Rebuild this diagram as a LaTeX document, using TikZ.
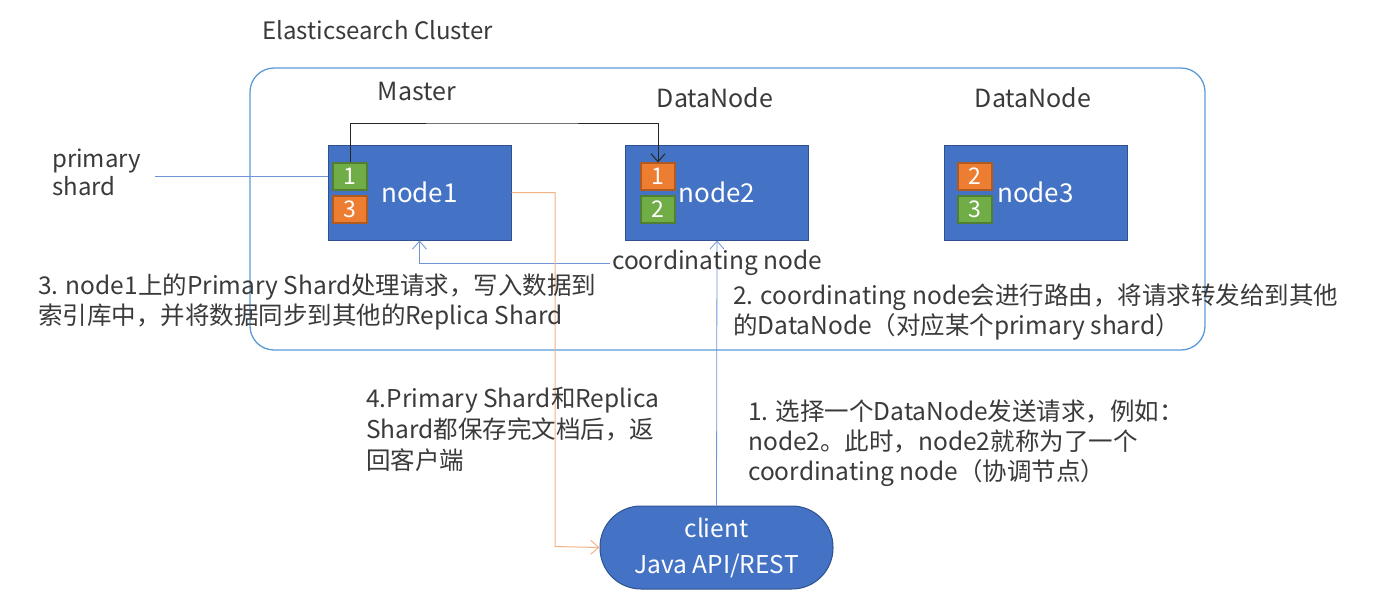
\documentclass[tikz,border=0pt]{standalone}
\usepackage{fontspec}
\setmainfont{Noto Sans CJK SC}
\usetikzlibrary{positioning,arrows.meta}
\definecolor{nodeblue}{HTML}{4472C4}
\definecolor{nodeedge}{HTML}{2F528F}
\definecolor{shgreen}{HTML}{70AD47}
\definecolor{shgreenedge}{HTML}{507E32}
\definecolor{shorange}{HTML}{ED7D31}
\definecolor{shorangeedge}{HTML}{AE5A21}
\definecolor{clusterline}{HTML}{5B9BD5}
\definecolor{linkblue}{HTML}{6F95D8}
\definecolor{linkorange}{HTML}{F4B183}
\definecolor{txt}{HTML}{3A3A3A}

\begin{document}
\begin{tikzpicture}[x=1pt,y=-1pt,
    esnode/.style={draw=nodeedge, line width=1pt, fill=nodeblue, text=white,
      minimum width=183pt, minimum height=95pt, font=\fontsize{26}{30}\selectfont},
    shardgreen/.style={draw=shgreenedge, line width=1.2pt, fill=shgreen, text=white,
      minimum width=34pt, minimum height=27pt, inner sep=0pt, font=\fontsize{23}{24}\selectfont},
    shardorange/.style={shardgreen, draw=shorangeedge, fill=shorange},
    note/.style={text=txt, inner sep=0pt, align=left, font=\fontsize{24.5}{30}\selectfont},
    role/.style={note, font=\fontsize{25}{30}\selectfont},
    barb/.style={-{Straight Barb[length=8pt,width=14pt]}}]
  % page frame, same size as the screenshot (1 unit = 1 px)
  \useasboundingbox (0,0) rectangle (1378,603);

  % cluster outline
  \node[note, anchor=west, font=\fontsize{24}{30}\selectfont] (title) at (262,30) {Elasticsearch Cluster};
  \draw[clusterline, line width=1.3pt, rounded corners=24pt] (250,68) rectangle (1205,350);

  % role labels
  \node[role] (lmaster) at (417,91) {Master};
  \node[role] (ldata2) at (715,98) {DataNode};
  \node[role] (ldata3) at (1033,98) {DataNode};

  % the three nodes
  \node[esnode] (node1) at (419.5,192.5) {node1};
  \node[esnode] (node2) at (717,192.5) {node2};
  \node[esnode] (node3) at (1035.5,192.5) {node3};

  % shards inside the nodes
  \node[shardgreen]  (s11) at (350,176.5) {1};
  \node[shardorange] (s13) at (350,209.5) {3};
  \node[shardorange] (s21) at (658,176.5) {1};
  \node[shardgreen]  (s22) at (658,209.5) {2};
  \node[shardorange] (s32) at (975,176.5) {2};
  \node[shardgreen]  (s33) at (975,209.5) {3};

  % client
  \node[draw=nodeedge, line width=1pt, fill=nodeblue, text=white, align=center,
    minimum width=233pt, minimum height=83pt, rounded corners=41pt,
    font=\fontsize{24.5}{36}\selectfont] (client) at (716.5,547.5) {client\\Java API/REST};

  % primary shard pointer
  \node[note, anchor=west, font=\fontsize{24}{28}\selectfont] (pslabel) at (52,172) {primary\\shard};
  \coordinate (psend) at (155,176);
  \draw[linkblue, line width=0.8pt] (psend) -- (node1.west |- psend);

  % replication from primary 1 to replica 1
  \coordinate (rtop) at (500,123);
  \draw[barb, black!85, line width=1pt] (s11.north) |- (rtop) -| (s21.north);

  % request path
  \draw[barb, linkblue, line width=0.8pt] (client.north) -- (node2.south);
  \coordinate (cstart) at (610,263);
  \draw[barb, linkblue, line width=0.8pt] (cstart) -| (node1.south);
  \coordinate (obend) at (555,546.5);
  \draw[barb, linkorange, line width=1pt] (node1.east) -| (obend) -- (client.west);

  % notes
  \node[note, anchor=west] (coord) at (612,263) {coordinating node};
  \node[note, anchor=west] (step3) at (38,301.5) {3. node1上的Primary Shard处理请求，写入数据到\\索引库中，并将数据同步到其他的Replica Shard};
  \node[note, anchor=west] (step2) at (733,312.5) {2. coordinating node会进行路由，将请求转发给到其他\\的DataNode（对应某个primary shard）};
  \node[note, anchor=west, font=\fontsize{24.5}{31}\selectfont] (step4) at (366,429.5) {4.Primary Shard和Replica\\Shard都保存完文档后，返\\回客户端};
  \node[note, anchor=west] (step1) at (748,443.5) {1. 选择一个DataNode发送请求，例如：\\node2。此时，node2就称为了一个\\coordinating node（协调节点）};
\end{tikzpicture}
\end{document}
